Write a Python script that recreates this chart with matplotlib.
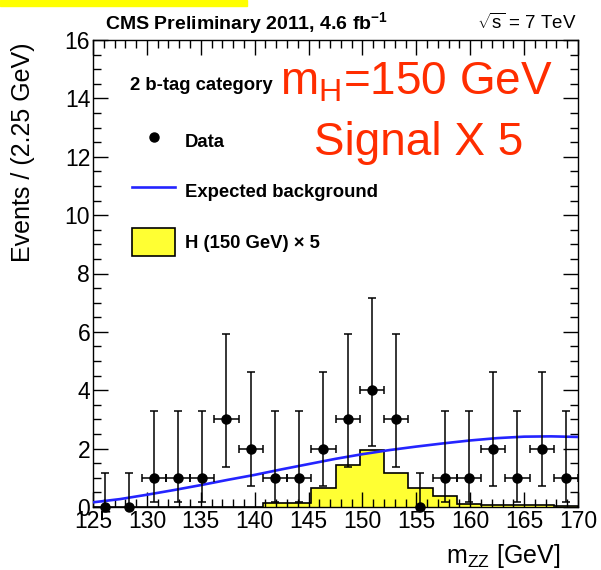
import numpy as np
import matplotlib
matplotlib.use("Agg")
import matplotlib.pyplot as plt
from matplotlib.lines import Line2D
from matplotlib.patches import Patch, Rectangle
from matplotlib.ticker import MultipleLocator

plt.rcParams['font.family'] = ['Liberation Sans', 'DejaVu Sans']
plt.rcParams['mathtext.fontset'] = 'custom'
plt.rcParams['mathtext.rm'] = 'Liberation Sans'
plt.rcParams['mathtext.it'] = 'Liberation Sans'
plt.rcParams['mathtext.bf'] = 'Liberation Sans:bold'

# ---- data ----
bin_edges = [125.0, 127.25, 129.5, 131.75, 134.0, 136.25, 138.5, 140.75, 143.0,
             145.25, 147.5, 149.75, 152.0, 154.25, 156.5, 158.75, 161.0,
             163.25, 165.5, 167.75, 170.0]
data_counts = [0, 0, 1, 1, 1, 3, 2, 1, 1, 2, 3, 4, 3, 0, 1, 1, 2, 1, 2, 1]
data_err_lo = [0, 0, 0.83, 0.83, 0.83, 1.63, 1.29, 0.83, 0.83, 1.29, 1.63,
               1.91, 1.63, 0, 0.83, 0.83, 1.29, 0.83, 1.29, 0.83]
data_err_hi = [1.15, 1.15, 2.30, 2.30, 2.30, 2.92, 2.64, 2.30, 2.30, 2.64,
               2.92, 3.16, 2.92, 1.15, 2.30, 2.30, 2.64, 2.30, 2.64, 2.30]
signal_x5 = [0, 0, 0, 0, 0, 0, 0, 0.12, 0.14, 0.64, 1.43, 1.95, 1.16, 0.64,
             0.37, 0.10, 0.08, 0.07, 0.06, 0.05]
bkg_mass = [125, 127.5, 130, 132.5, 135, 137.5, 140, 142.5, 145, 147.5, 150,
            152.5, 155, 157.5, 160, 162.5, 165, 167.5, 170]
bkg_value = [0.16, 0.27, 0.42, 0.58, 0.75, 0.93, 1.10, 1.29, 1.47, 1.65, 1.81,
             1.95, 2.07, 2.18, 2.28, 2.36, 2.41, 2.42, 2.40]
x_ticks = [125, 130, 135, 140, 145, 150, 155, 160, 165, 170]
y_ticks = [0, 2, 4, 6, 8, 10, 12, 14, 16]

edges = np.array(bin_edges)
centers = 0.5 * (edges[:-1] + edges[1:])
half_w = 0.5 * np.diff(edges)
counts = np.array(data_counts, dtype=float)
xerr = np.where(counts > 0, half_w, 0.0)

fig = plt.figure(figsize=(6.01, 5.70), dpi=100)
ax = fig.add_axes([93/601, (570-507)/570, 485/601, 467/570])

ax.stairs(signal_x5, edges, fill=True, facecolor='#ffff33', edgecolor='black',
          linewidth=1.2, zorder=1)
ax.plot(bkg_mass, bkg_value, color='#2424ff', lw=1.9, zorder=2.6)
eb = ax.errorbar(centers, counts, yerr=[data_err_lo, data_err_hi], xerr=xerr,
                 fmt='o', color='black', ms=6.5, elinewidth=1.1, capsize=2.6,
                 capthick=1.1, zorder=3)
for art in eb.lines[0:1]:
    art.set_clip_on(False)

ax.set_xlim(125, 170)
ax.set_ylim(0, 16)
ax.set_xticks(x_ticks)
ax.set_yticks(y_ticks)
ax.xaxis.set_minor_locator(MultipleLocator(1))
ax.yaxis.set_minor_locator(MultipleLocator(0.5))
ax.tick_params(which='both', direction='in', top=True, right=True, width=1.0)
ax.tick_params(which='major', length=11, labelsize=16.5, pad=2)
ax.tick_params(which='minor', length=5.5)
for sp in ax.spines.values():
    sp.set_linewidth(1.0)

# axis labels
fig.text(23/601, 1 - 43/570, 'Events / (2.25 GeV)', rotation=90, ha='center',
         va='top', fontsize=18)
fig.text(560/601, 1 - 563/570, r'm$_{\mathregular{ZZ}}$ [GeV]', ha='right',
         va='baseline', fontsize=18)

# title
fig.text(105/601, 1 - 29/570, r'CMS Preliminary 2011, 4.6 fb$^{\mathbf{-1}}$',
         ha='left', va='baseline', fontsize=14, fontweight='bold')
fig.text(577/601, 1 - 29/570, r'$\sqrt{\mathregular{s}}$ = 7 TeV', ha='right',
         va='baseline', fontsize=13.5)

# legend
fig.text(130/601, 1 - 90/570, '2 b-tag category', ha='left', va='baseline',
         fontsize=13.3, fontweight='bold')
handles = [Line2D([], [], marker='o', ls='none', color='black', ms=6.5),
           Line2D([], [], color='#2424ff', lw=1.9),
           Patch(facecolor='#ffff33', edgecolor='black', linewidth=1.2)]
labels = ['Data', 'Expected background', 'H (150 GeV) \u00d7 5']
ax.legend(handles, labels, loc='upper left',
          bbox_to_anchor=((132-93)/485, (507-126.5)/467),
          frameon=False, borderpad=0, borderaxespad=0,
          prop={'size': 13.3, 'weight': 'bold'}, handlelength=2.33,
          handleheight=2.0, handletextpad=0.54, labelspacing=1.2)

# red annotation
red = '#ff2d00'
fig.text(280/601, 1 - 95/570, r'm$_{\mathregular{H}}$=150 GeV', ha='left',
         va='baseline', fontsize=33, color=red)
fig.text(419/601, 1 - 155/570, 'Signal X 5', ha='center', va='baseline',
         fontsize=33, color=red)

# yellow strip at top-left
fig.patches.append(Rectangle((0, 1 - 6/570), 247/601, 6/570,
                             transform=fig.transFigure, color='#ffff00',
                             zorder=0))

fig.savefig('out.png', dpi=100)
